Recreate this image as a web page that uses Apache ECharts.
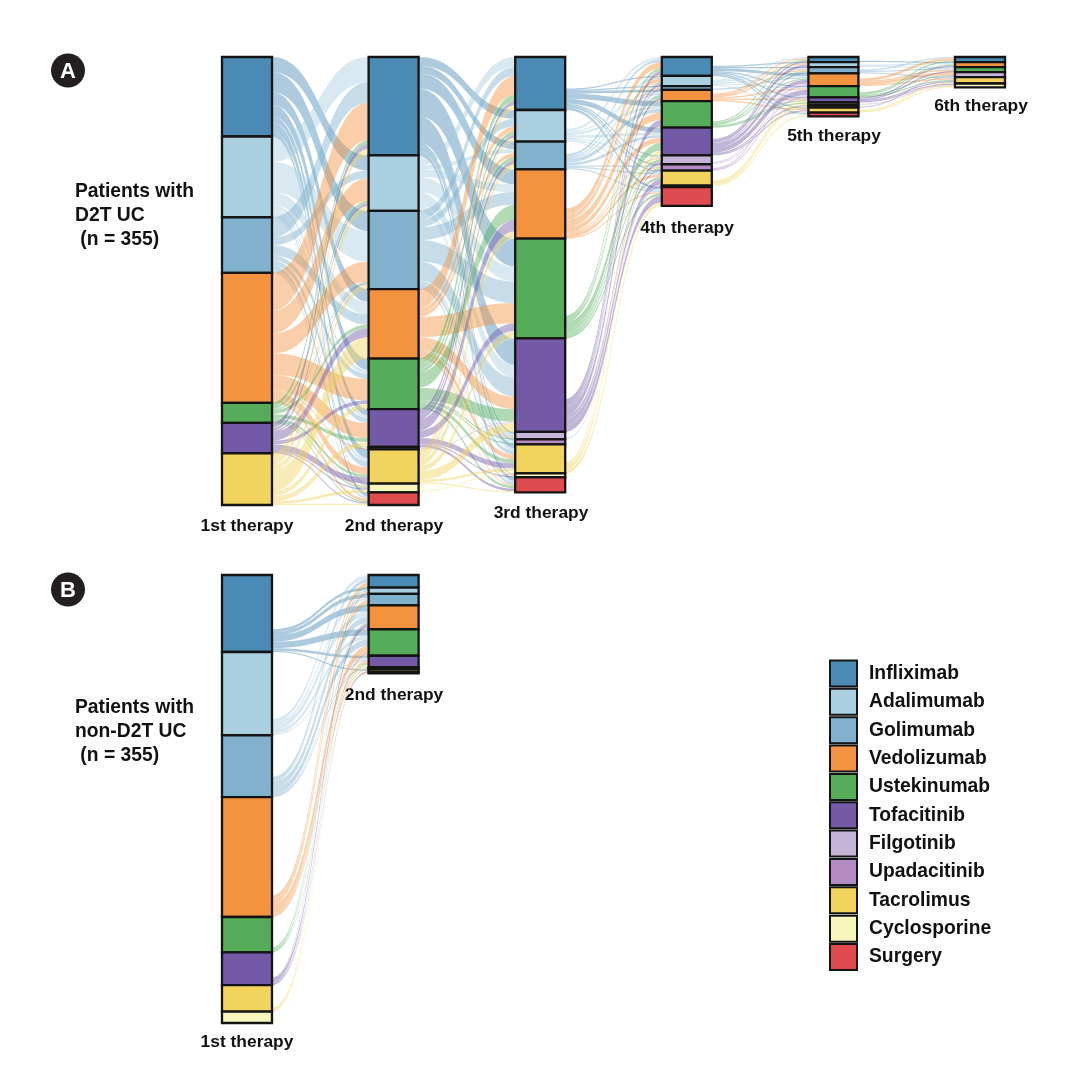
<!DOCTYPE html>
<html><head><meta charset="utf-8">
<style>html,body{margin:0;padding:0;background:#fff}#c{width:1073px;height:1088px}</style>
<script src="https://cdn.jsdelivr.net/npm/echarts@6/dist/echarts.min.js"></script>
</head><body><div id="c"></div>
<script>
const drugs = ['Infliximab','Adalimumab','Golimumab','Vedolizumab','Ustekinumab','Tofacitinib','Filgotinib','Upadacitinib','Tacrolimus','Cyclosporine','Surgery'];
const colors = ['#4a8ab5','#a9cfe0','#80b1cd','#f3923f','#55ad5a','#7459a6','#c6b4d9','#b48cc3','#f2d35e','#f7f7bd','#e04b50'];
const therapyLabels = ['1st therapy','2nd therapy','3rd therapy','4th therapy','5th therapy','6th therapy'];
const stopName = 'No further therapy';

// patient counts: row = drug at this line, column = drug at next line (same order as drugs)
const d2t1to2 = [
 [0,12,16,10,9,5,0,0,7,1,3],
 [20,0,24,10,3,2,1,0,3,0,1],
 [16,6,0,8,4,4,0,0,4,1,1],
 [30,18,16,0,17,12,1,0,6,1,2],
 [3,2,1,3,0,3,0,0,2,1,1],
 [4,2,1,7,3,0,0,0,5,1,1],
 [0,0,0,0,0,0,0,0,0,0,0],
 [0,0,0,0,0,0,0,0,0,0,0],
 [5,4,4,17,4,4,0,0,0,2,1],
 [0,0,0,0,0,0,0,0,0,0,0],
 [0,0,0,0,0,0,0,0,0,0,0]];
const d2t2to3 = [
 [0,7,6,12,22,21,2,1,3,1,3],
 [8,0,3,6,12,10,1,1,2,0,1],
 [7,6,0,10,17,15,1,1,3,0,2],
 [15,4,3,0,16,10,1,0,4,1,1],
 [5,3,3,12,0,10,1,1,3,0,2],
 [3,2,3,9,6,0,0,0,4,1,2],
 [0,0,0,0,1,1,0,0,0,0,0],
 [0,0,0,0,0,0,0,0,0,0,0],
 [3,2,3,5,4,7,0,0,2,0,1],
 [1,1,1,1,1,0,0,0,2,0,0],
 [0,0,0,0,0,0,0,0,0,0,0]];
const d2t3to4 = [
 [0,1,1,2,4,4,1,1,1,0,2],
 [2,0,0,1,2,2,1,0,1,0,1],
 [2,1,0,1,3,2,0,1,1,0,1],
 [5,3,1,0,6,4,1,1,2,0,1],
 [2,1,0,2,0,6,2,1,2,0,2],
 [3,2,1,2,5,0,2,1,4,1,5],
 [0,0,0,0,0,0,0,0,1,0,0],
 [0,0,0,0,0,0,0,0,0,0,0],
 [1,0,0,1,1,3,0,0,0,0,3],
 [0,0,0,0,0,1,0,0,0,0,0],
 [0,0,0,0,0,0,0,0,0,0,0]];
const d2t4to5 = [
 [0,1,1,2,1,1,0,0,1,0,1],
 [1,0,1,1,1,0,0,0,0,0,1],
 [0,0,0,1,0,0,0,0,0,0,0],
 [1,1,1,0,1,1,0,0,1,0,0],
 [1,0,1,1,0,1,1,0,0,0,0],
 [1,2,1,3,4,0,0,1,1,0,0],
 [0,0,0,1,1,0,0,0,0,0,0],
 [0,0,0,1,1,0,0,0,0,0,0],
 [0,0,0,0,0,1,1,1,0,0,1],
 [0,0,0,0,0,0,0,0,1,0,0],
 [0,0,0,0,0,0,0,0,0,0,0]];
const d2t5to6 = [
 [0,0,0,1,0,0,0,0,0,0,0],
 [0,0,0,1,1,0,0,0,0,0,0],
 [1,0,0,0,1,0,0,0,1,0,0],
 [2,0,0,0,1,0,2,0,1,0,0],
 [1,0,0,1,0,0,1,0,1,0,0],
 [0,0,0,1,1,0,0,0,1,1,0],
 [0,0,0,0,0,0,0,0,0,1,0],
 [0,0,0,0,0,0,1,0,0,0,0],
 [0,0,0,0,0,0,0,0,1,1,0],
 [0,0,0,0,0,0,0,0,0,0,0],
 [0,0,0,0,0,0,0,0,0,0,0]];
const nonD2tFirst = [61,66,49,95,28,26,0,0,21,9,0];
const nonD2t1to2 = [
 [0,2,3,5,5,2,0,0,1,0,0],
 [3,0,2,4,3,1,0,0,0,0,0],
 [3,1,0,5,5,1,1,0,0,0,0],
 [3,1,3,0,6,2,0,1,0,0,1],
 [1,0,1,1,0,1,0,0,0,0,0],
 [0,1,0,3,1,0,0,0,1,0,0],
 [0,0,0,0,0,0,0,0,0,0,0],
 [0,0,0,0,0,0,0,0,0,0,0],
 [0,0,0,1,1,1,0,0,0,0,0],
 [0,0,0,0,0,1,0,0,0,0,0],
 [0,0,0,0,0,0,0,0,0,0,0]];

const rowSum = r => r.reduce((a, b) => a + b, 0);
const colSum = (m, j) => m.reduce((a, r) => a + r[j], 0);

// Builds the node and link lists; the patients who stop after a line go to one invisible
// "no further therapy" node, so that onward flows leave from the bottom of each block.
function build(steps, firstTotals) {
  const nodes = [], stops = [], moves = [];
  const n = steps.length + 1;
  for (let k = 0; k < n; k++) {
    drugs.forEach((d, i) => {
      const incoming = k > 0 ? colSum(steps[k - 1], i) : (firstTotals ? firstTotals[i] : rowSum(steps[0][i]));
      const out = k < n - 1 ? rowSum(steps[k][i]) : 0;
      if (incoming === 0 && out === 0) return;
      const name = d + ' ' + (k + 1);
      nodes.push({name, itemStyle: {color: colors[i], borderColor: '#141414', borderWidth: 2.3}});
      const stop = incoming - out;
      if (stop > 0 && (out > 0 || k === n - 1)) {
        stops.push({source: name, target: stopName, value: stop, lineStyle: {opacity: 0}});
      }
      if (k < n - 1) {
        steps[k][i].forEach((v, j) => {
          if (v > 0) moves.push({source: name, target: drugs[j] + ' ' + (k + 2), value: v});
        });
      }
    });
  }
  nodes.push({name: stopName, itemStyle: {color: 'rgba(0,0,0,0)', borderWidth: 0, opacity: 0}});
  return {nodes, links: stops.concat(moves)};
}

const panelA = build([d2t1to2, d2t2to3, d2t3to4, d2t4to5, d2t5to6], null);
const panelB = build([nonD2t1to2], nonD2tFirst);

function sankey(panel, top, width) {
  return {
    type: 'sankey', left: 222, top, width, height: 448,
    nodeWidth: 50, nodeGap: 0, nodeAlign: 'left', layoutIterations: 0,
    draggable: false, silent: true, emphasis: {disabled: true},
    label: {show: false},
    lineStyle: {color: 'source', opacity: 0.45, curveness: 0.5},
    data: panel.nodes, links: panel.links
  };
}

const font = 'Liberation Sans';
const txt = (x, y, text, size, extra) => ({
  type: 'text', x, y, silent: true,
  style: Object.assign({text, fill: '#111', font: 'bold ' + size + 'px "' + font + '"', textVerticalAlign: 'middle'}, extra || {})
});
const badge = (x, y, text) => [
  {type: 'circle', shape: {cx: x, cy: y, r: 17}, style: {fill: '#231f20'}, silent: true},
  txt(x, y + 1, text, 22, {fill: '#fff', textAlign: 'center'})
];
const center = {textAlign: 'center'};
const graphics = [
  ...badge(68, 70.5, 'A'), ...badge(68, 589.5, 'B'),
  txt(75, 192, 'Patients with', 19.3), txt(75, 216, 'D2T UC', 19.3), txt(75, 240, ' (n = 355)', 19.3),
  txt(75, 708, 'Patients with', 19.3), txt(75, 732, 'non-D2T UC', 19.3), txt(75, 756, ' (n = 355)', 19.3),
  txt(247, 526, therapyLabels[0], 17.4, center), txt(394, 526, therapyLabels[1], 17.4, center),
  txt(541, 513, therapyLabels[2], 17.4, center), txt(687, 228, therapyLabels[3], 17.4, center),
  txt(834, 136, therapyLabels[4], 17.4, center), txt(981, 106, therapyLabels[5], 17.4, center),
  txt(247, 1042, therapyLabels[0], 17.4, center), txt(394, 695, therapyLabels[1], 17.4, center)
];

const chart = echarts.init(document.getElementById('c'), null, {renderer: 'canvas'});
chart.setOption({
  animation: false,
  backgroundColor: '#fff',
  grid: {show: false, left: 0, top: 0, width: 1, height: 1},
  xAxis: {show: false, type: 'value'},
  yAxis: {show: false, type: 'value'},
  legend: {
    orient: 'vertical', left: 829, top: 659.5, padding: 0,
    itemWidth: 27, itemHeight: 26, itemGap: 0.35, icon: 'rect', selectedMode: false,
    itemStyle: {borderColor: '#141414', borderWidth: 2, opacity: 1},
    textStyle: {color: '#111', fontFamily: font, fontWeight: 'bold', fontSize: 19.3, padding: [0, 0, 0, 7]},
    data: drugs
  },
  series: [
    sankey(panelA, 57, 929.6),
    sankey(panelB, 575, 343.2),
    ...drugs.map((d, i) => ({type: 'scatter', name: d, data: [], itemStyle: {color: colors[i], opacity: 1}}))
  ],
  graphic: graphics
});
</script></body></html>
